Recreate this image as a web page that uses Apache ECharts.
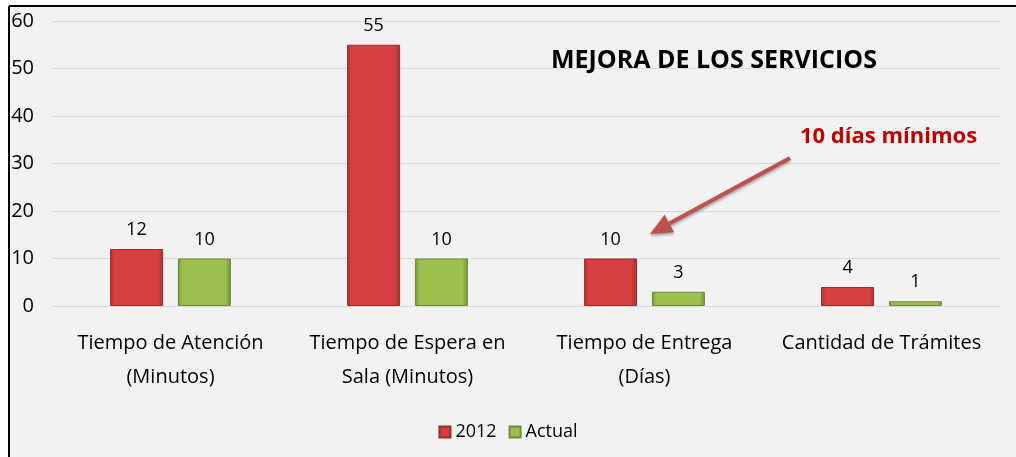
<!DOCTYPE html>
<html>
<head>
<meta charset="utf-8">
<script src="https://cdn.jsdelivr.net/npm/echarts@6/dist/echarts.min.js"></script>
<style>
  html, body { margin: 0; padding: 0; background: #fff; }
  #chart { width: 1016px; height: 457px; }
</style>
</head>
<body>
<div id="chart"></div>
<script>
const categories = [
  "Tiempo de Atención\n(Minutos)",
  "Tiempo de Espera en\nSala (Minutos)",
  "Tiempo de Entrega\n(Días)",
  "Cantidad de Trámites",
];
const values2012 = [12, 55, 10, 4];
const valuesActual = [10, 10, 3, 1];
const yTicks = [0, 60, 10]; // min, max, interval

const chart = echarts.init(document.getElementById("chart"));

function bevel(mid, dark) {
  return new echarts.graphic.LinearGradient(0, 0, 1, 0, [
    { offset: 0, color: dark },
    { offset: 0.08, color: mid },
    { offset: 0.9, color: mid },
    { offset: 1, color: dark },
  ]);
}

const font = "'Open Sans', 'DejaVu Sans', sans-serif";

// arrow pointing at the "Tiempo de Entrega" 2012 label
const tip = [650, 234];
const tail = [790, 158];
const ang = Math.atan2(tip[1] - tail[1], tip[0] - tail[0]);
const hl = 22, hw = 10;
const bx = tip[0] - hl * Math.cos(ang), by = tip[1] - hl * Math.sin(ang);
const px = -Math.sin(ang) * hw, py = Math.cos(ang) * hw;
const arrowShadow = { shadowColor: "rgba(0,0,0,0.35)", shadowBlur: 3, shadowOffsetY: 2 };

chart.setOption({
  animation: false,
  textStyle: { fontFamily: font },
  graphic: [
    { type: "rect", id: "bg", shape: { x: 10, y: 7, width: 1006, height: 450 }, style: { fill: "#f2f2f2" }, z: -10 },
    { type: "line", id: "bTop", shape: { x1: 9, y1: 6, x2: 1016, y2: 6 }, style: { stroke: "#000", lineWidth: 2 }, z: -9 },
    { type: "line", id: "bLeft", shape: { x1: 9, y1: 6, x2: 9, y2: 457 }, style: { stroke: "#000", lineWidth: 2 }, z: -9 },
    {
      type: "text", id: "title", left: 551, top: 48, z: 10,
      style: {
        text: "MEJORA DE LOS SERVICIOS", fill: "#000",
        font: "bold 25px 'Open Sans', sans-serif",
        shadowColor: "rgba(0,0,0,0.45)", shadowBlur: 4, shadowOffsetX: 1, shadowOffsetY: 2,
      },
    },
    {
      type: "text", id: "note", left: 800, top: 126, z: 10,
      style: {
        text: "10 días mínimos", fill: "#c00000",
        font: "bold 22px 'Open Sans', sans-serif",
      },
    },
    { type: "line", id: "arrowLine", z: 10, shape: { x1: tail[0], y1: tail[1], x2: bx, y2: by },
      style: Object.assign({ stroke: "#c0504d", lineWidth: 4 }, arrowShadow) },
    { type: "polygon", id: "arrowHead", z: 10, shape: { points: [tip, [bx + px, by + py], [bx - px, by - py]] },
      style: Object.assign({ fill: "#c0504d" }, arrowShadow) },
  ],
  legend: {
    bottom: 11,
    left: "center",
    itemWidth: 11,
    itemHeight: 11,
    itemGap: 12,
    icon: "rect",
    textStyle: { fontSize: 18, color: "#000", fontFamily: font },
    data: ["2012", "Actual"],
  },
  grid: { left: 52, right: 16, top: 21, bottom: 151 },
  xAxis: {
    type: "category",
    data: categories,
    axisLine: { show: true, lineStyle: { color: "#d9d9d9" } },
    axisTick: { show: false },
    axisLabel: { fontSize: 20, color: "#000", lineHeight: 34, margin: 20, interval: 0 },
  },
  yAxis: {
    type: "value",
    min: yTicks[0], max: yTicks[1], interval: yTicks[2],
    axisLine: { show: false },
    axisTick: { show: false },
    splitLine: { lineStyle: { color: "#d9d9d9" } },
    axisLabel: { fontSize: 20, color: "#000", margin: 18 },
  },
  series: [
    {
      name: "2012", type: "bar", data: values2012,
      barWidth: 53, barGap: "28%",
      itemStyle: { color: bevel("#d63f3f", "#a83232"), borderColor: "#9c2c2c", borderWidth: 1 },
      label: { show: true, position: "top", fontSize: 18, color: "#000", distance: 10 },
    },
    {
      name: "Actual", type: "bar", data: valuesActual,
      barWidth: 53,
      itemStyle: { color: bevel("#9cbf4e", "#71913a"), borderColor: "#6f8b36", borderWidth: 1 },
      label: { show: true, position: "top", fontSize: 18, color: "#000", distance: 10 },
    },
  ],
});
</script>
</body>
</html>
